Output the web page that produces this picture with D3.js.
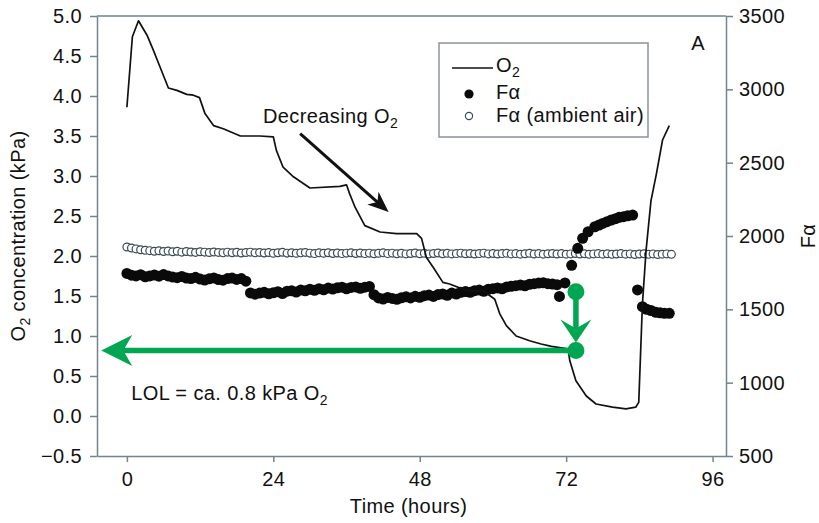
<!DOCTYPE html>
<meta charset="utf-8">
<script src="https://cdn.jsdelivr.net/npm/d3@7"></script>
<style>
  body { margin: 0; background: #fff; }
  text { font-family: "Liberation Sans", Arial, sans-serif; fill: #111; }
</style>
<div id="chart"></div>
<script>
// O2 trace (left axis, kPa)
var o2Hours = [0, 0.9, 1.9, 3.3, 4.35, 5.45, 6.8, 8.2, 9.8, 10.9, 11.9, 12.8, 14.2, 15.8, 18.6, 21.8, 24.0,
  24.5, 25.6, 27.3, 30.0, 34.9, 36.0, 36.5, 37.4, 39.0, 41.5, 44.2, 47.5, 48.3, 49.1, 50.2, 51.8, 52.9,
  55.6, 58.5, 60.3, 61.1, 62.2, 63.8, 66.0, 67.9, 69.6, 72.3, 72.6, 73.6, 75.3, 76.9, 79.6, 81.8, 83.4,
  83.9, 84.5, 85.1, 85.9, 86.8, 87.8, 88.9];
var o2Values = [3.86, 4.74, 4.94, 4.76, 4.57, 4.36, 4.10, 4.07, 4.02, 4.01, 3.98, 3.78, 3.63, 3.59, 3.50, 3.50, 3.49,
  3.32, 3.11, 2.99, 2.85, 2.87, 2.89, 2.78, 2.61, 2.38, 2.30, 2.28, 2.28, 2.22, 1.98, 1.86, 1.67, 1.65,
  1.57, 1.56, 1.46, 1.28, 1.13, 1.00, 0.94, 0.90, 0.87, 0.84, 0.69, 0.44, 0.25, 0.15, 0.11, 0.09, 0.11,
  0.17, 1.40, 2.07, 2.69, 3.03, 3.45, 3.63];

// F-alpha readings (right axis), one every 0.75 h
var sampleStep = 0.75;
var faValues = [1745, 1733, 1728, 1736, 1722, 1728, 1734, 1726, 1737, 1728,
  1720, 1716, 1724, 1713, 1710, 1718, 1706, 1700, 1708, 1714,
  1703, 1699, 1710, 1713, 1704, 1710, 1692, 1612, 1603, 1611,
  1616, 1606, 1613, 1620, 1608, 1624, 1626, 1618, 1631, 1626,
  1637, 1630, 1641, 1633, 1645, 1638, 1647, 1651, 1640, 1649,
  1653, 1643, 1651, 1656, 1600, 1578, 1570, 1581, 1574, 1568,
  1579, 1585, 1578, 1589, 1582, 1593, 1597, 1588, 1601, 1605,
  1596, 1611, 1604, 1616, 1621, 1616, 1627, 1631, 1623, 1637,
  1641, 1646, 1640, 1653, 1657, 1661, 1666, 1660, 1671, 1675,
  1679, 1681, 1675, 1672, 1668];
// scattered F-alpha readings after the band
var faLateHours = [70.9, 71.8, 72.9, 73.9, 74.7, 75.6, 76.7, 77.4, 78.0, 78.7, 79.4, 80.1, 80.7, 81.4, 82.1, 82.9,
  83.7, 84.5, 85.2, 85.9, 86.7, 87.4, 88.1, 88.9];
var faLateValues = [1588, 1680, 1800, 1916, 1984, 2029, 2063, 2075, 2086, 2098, 2109, 2118, 2127, 2132, 2138, 2143,
  1632, 1518, 1500, 1492, 1480, 1476, 1473, 1473];

// F-alpha, ambient air, same sampling
var ambientValues = [1925, 1918, 1912, 1906, 1902, 1900, 1896, 1899, 1894, 1897,
  1893, 1896, 1890, 1894, 1891, 1888, 1893, 1890, 1887, 1891,
  1888, 1885, 1890, 1886, 1889, 1884, 1887, 1890, 1885, 1888,
  1884, 1887, 1882, 1886, 1889, 1883, 1886, 1882, 1885, 1888,
  1883, 1880, 1885, 1882, 1886, 1881, 1884, 1880, 1883, 1886,
  1881, 1884, 1880, 1883, 1879, 1882, 1885, 1880, 1883, 1879,
  1882, 1878, 1881, 1884, 1879, 1882, 1878, 1881, 1884, 1879,
  1882, 1878, 1880, 1883, 1879, 1881, 1877, 1880, 1883, 1878,
  1881, 1877, 1880, 1882, 1878, 1880, 1876, 1879, 1882, 1877,
  1880, 1876, 1879, 1881, 1877, 1880, 1876, 1878, 1881, 1877,
  1879, 1875, 1878, 1880, 1876, 1879, 1875, 1877, 1880, 1876,
  1878, 1874, 1877, 1879, 1875, 1878, 1874, 1876, 1878, 1875];

// ticks
var hourTicks = [0, 24, 48, 72, 96];
var o2Ticks = [-0.5, 0, 0.5, 1.0, 1.5, 2.0, 2.5, 3.0, 3.5, 4.0, 4.5, 5.0];
var faTicks = [500, 1000, 1500, 2000, 2500, 3000, 3500];

// limiting oxygen level marker
var lolHour = 73.6, lolFa = 1620, lolO2 = 0.82, lolArrowEnd = -4.2;

var margin = {top: 16, right: 93, bottom: 67, left: 97},
    width = 819 - margin.left - margin.right,
    height = 523 - margin.top - margin.bottom;

var svg = d3.select("#chart")
  .append("svg")
    .attr("width", width + margin.left + margin.right)
    .attr("height", height + margin.top + margin.bottom)
  .append("g")
    .attr("transform", "translate(" + margin.left + "," + margin.top + ")");

var x = d3.scaleLinear().domain([-4.9, 98.2]).range([0, width]);
var yL = d3.scaleLinear().domain([-0.5, 5.0]).range([height, 0]);
var yR = d3.scaleLinear().domain([500, 3500]).range([height, 0]);

var axisColor = "#71858f";
var fontSize = "20px", spacing = "0.4px";

function styleAxis(g) {
  g.selectAll("path, line").attr("stroke", axisColor).attr("stroke-width", 1.5);
  g.selectAll("text").style("font-size", fontSize).style("letter-spacing", spacing)
    .attr("fill", "#111");
}

// top frame
svg.append("line")
  .attr("x1", 0).attr("x2", width).attr("y1", 0).attr("y2", 0)
  .attr("stroke", axisColor).attr("stroke-width", 1.5);

svg.append("g")
  .attr("transform", "translate(0," + height + ")")
  .call(d3.axisBottom(x).tickValues(hourTicks).tickSize(6).tickSizeOuter(0).tickPadding(10))
  .call(styleAxis);

svg.append("g")
  .call(d3.axisLeft(yL).tickValues(o2Ticks).tickFormat(d3.format(".1f"))
    .tickSize(7).tickSizeOuter(0).tickPadding(8))
  .call(styleAxis);

svg.append("g")
  .attr("transform", "translate(" + width + ",0)")
  .call(d3.axisRight(yR).tickValues(faTicks).tickFormat(d3.format("d"))
    .tickSize(7).tickSizeOuter(0).tickPadding(6))
  .call(styleAxis);

// axis titles
svg.append("text")
  .attr("x", width / 2 - 3).attr("y", height + 57)
  .attr("text-anchor", "middle")
  .style("font-size", fontSize).style("letter-spacing", spacing)
  .text("Time (hours)");

var yTitle = svg.append("text")
  .attr("transform", "translate(" + (25 - margin.left) + "," + (height / 2) + ") rotate(-90)")
  .attr("text-anchor", "middle")
  .style("font-size", fontSize).style("letter-spacing", spacing);
yTitle.append("tspan").text("O");
yTitle.append("tspan").attr("dy", 5).style("font-size", "14px").text("2");
yTitle.append("tspan").attr("dy", -5).text(" concentration (kPa)");

svg.append("text")
  .attr("transform", "translate(" + (width + 815 - 726) + "," + (height / 2) + ") rotate(-90)")
  .attr("text-anchor", "middle")
  .style("font-size", fontSize).style("letter-spacing", spacing)
  .text("F\u03b1");

// ambient air readings
svg.selectAll(".amb")
  .data(ambientValues)
  .enter()
  .append("circle")
    .attr("cx", function(d, i) { return x(i * sampleStep); })
    .attr("cy", function(d) { return yR(d); })
    .attr("r", 3.9)
    .attr("fill", "#fff")
    .attr("stroke", "#3b4953")
    .attr("stroke-width", 1.2);

// F-alpha readings
var faPoints = faValues.map(function(v, i) { return [i * sampleStep, v]; })
  .concat(faLateHours.map(function(h, i) { return [h, faLateValues[i]]; }));
svg.selectAll(".fa")
  .data(faPoints)
  .enter()
  .append("circle")
    .attr("cx", function(d) { return x(d[0]); })
    .attr("cy", function(d) { return yR(d[1]); })
    .attr("r", 5.5)
    .attr("fill", "#0a0a0a");

// O2 line
svg.append("path")
  .datum(o2Hours.map(function(h, i) { return [h, o2Values[i]]; }))
  .attr("fill", "none")
  .attr("stroke", "#111")
  .attr("stroke-width", 1.7)
  .attr("stroke-linejoin", "round")
  .attr("d", d3.line()
    .x(function(d) { return x(d[0]); })
    .y(function(d) { return yL(d[1]); }));

// "Decreasing O2" annotation
var dec = svg.append("text")
  .attr("x", x(22.3)).attr("y", yL(3.66))
  .style("font-size", fontSize).style("letter-spacing", spacing);
dec.append("tspan").text("Decreasing O");
dec.append("tspan").attr("dy", 5).style("font-size", "14px").text("2");

var ax0 = x(28.4), ay0 = yL(3.53), ax1 = x(42.9), ay1 = yL(2.55);
var ang = Math.atan2(ay1 - ay0, ax1 - ax0) * 180 / Math.PI;
svg.append("line")
  .attr("x1", ax0).attr("y1", ay0)
  .attr("x2", ax1 - 12 * Math.cos(ang * Math.PI / 180))
  .attr("y2", ay1 - 12 * Math.sin(ang * Math.PI / 180))
  .attr("stroke", "#111").attr("stroke-width", 3);
svg.append("path")
  .attr("d", "M0,0L-21,-8.5L-15,0L-21,8.5Z")
  .attr("transform", "translate(" + ax1 + "," + ay1 + ") rotate(" + ang + ")")
  .attr("fill", "#111");

// LOL text
var lol = svg.append("text")
  .attr("x", x(0.7)).attr("y", yL(0.2))
  .style("font-size", fontSize).style("letter-spacing", spacing);
lol.append("tspan").text("LOL = ca. 0.8 kPa O");
lol.append("tspan").attr("dy", 5).style("font-size", "14px").text("2");

svg.append("text")
  .attr("x", x(92.5)).attr("y", yL(4.57))
  .style("font-size", fontSize)
  .text("A");

// green LOL marker
var green = "#00a651";
var gx = x(lolHour), gTop = yR(lolFa), gBot = yL(lolO2);
svg.append("line")
  .attr("x1", gx).attr("x2", gx).attr("y1", gTop).attr("y2", gBot - 12)
  .attr("stroke", green).attr("stroke-width", 5.5);
svg.append("path")
  .attr("d", "M0,0L-15.5,-23L0,-14L15.5,-23Z")
  .attr("transform", "translate(" + gx + "," + (gBot - 8) + ")")
  .attr("fill", green);
svg.append("line")
  .attr("x1", gx).attr("x2", x(lolArrowEnd) + 20).attr("y1", gBot).attr("y2", gBot)
  .attr("stroke", green).attr("stroke-width", 5.5);
svg.append("path")
  .attr("d", "M0,0L31,-15.5L22,0L31,15.5Z")
  .attr("transform", "translate(" + x(lolArrowEnd) + "," + gBot + ")")
  .attr("fill", green);
svg.selectAll(".gdot")
  .data([gTop, gBot])
  .enter()
  .append("circle")
    .attr("cx", gx).attr("cy", function(d) { return d; })
    .attr("r", 8.5).attr("fill", green);

// legend
var legendLabels = ["O", "F\u03b1", "F\u03b1 (ambient air)"];
var lg = svg.append("g").attr("transform", "translate(" + (439 - margin.left) + "," + (43 - margin.top) + ")");
lg.append("rect")
  .attr("width", 209).attr("height", 94)
  .attr("fill", "#fff").attr("stroke", "#8a9298").attr("stroke-width", 1.5);
lg.append("line")
  .attr("x1", 13).attr("x2", 54).attr("y1", 25).attr("y2", 25)
  .attr("stroke", "#111").attr("stroke-width", 1.7);
lg.append("circle").attr("cx", 30).attr("cy", 51).attr("r", 4.6).attr("fill", "#0a0a0a");
lg.append("circle").attr("cx", 30).attr("cy", 73).attr("r", 3.6)
  .attr("fill", "#fff").attr("stroke", "#3b4953").attr("stroke-width", 1.2);
var lt = lg.selectAll(".lt")
  .data(legendLabels)
  .enter()
  .append("text")
    .attr("x", 57)
    .attr("y", function(d, i) { return [29, 56, 78.5][i]; })
    .style("font-size", fontSize).style("letter-spacing", spacing)
    .text(function(d) { return d; });
lt.filter(function(d, i) { return i === 0; })
  .append("tspan").attr("dy", 5).style("font-size", "14px").text("2");
</script>
